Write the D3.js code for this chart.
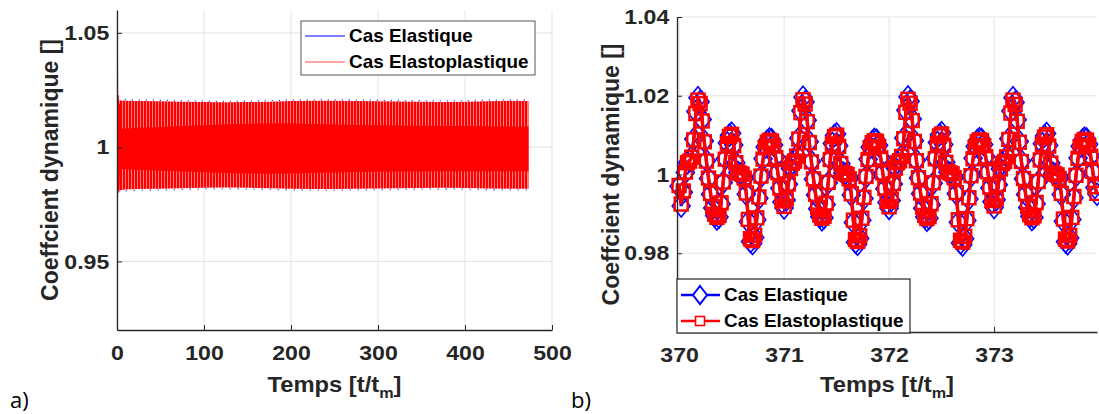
<!DOCTYPE html>
<html>
<head>
<meta charset="utf-8">
<script src="https://cdn.jsdelivr.net/npm/d3@7"></script>
<style>
  html, body { margin: 0; padding: 0; background: #ffffff; }
  svg { display: block; }
</style>
</head>
<body>
<script>
// ---------------- DATA ----------------
// Panel a) : envelope of the dense oscillation over the whole simulation
const envT      = [1, 10, 25, 50, 75, 100, 125, 150, 175, 200, 225, 250, 275, 300, 325, 350, 375, 400, 425, 450, 473];
const redUpper  = [1.0205,1.0203,1.0202,1.0201,1.0199,1.0197,1.0196,1.0197,1.0199,1.0202,1.0203,1.0203,1.0202,1.0201,1.0200,1.0199,1.0198,1.0199,1.0201,1.0203,1.0202];
const redLower  = [0.9810,0.9815,0.9817,0.9818,0.9820,0.9822,0.9823,0.9822,0.9820,0.9818,0.9817,0.9817,0.9818,0.9819,0.9820,0.9821,0.9822,0.9821,0.9819,0.9818,0.9818];
const coreUpper = [1.0080,1.0082,1.0085,1.0088,1.0092,1.0096,1.0100,1.0102,1.0104,1.0103,1.0101,1.0099,1.0097,1.0096,1.0095,1.0094,1.0093,1.0092,1.0091,1.0090,1.0090];
const coreLower = [0.9905,0.9903,0.9900,0.9897,0.9893,0.9890,0.9887,0.9885,0.9884,0.9885,0.9887,0.9889,0.9891,0.9892,0.9893,0.9893,0.9894,0.9894,0.9895,0.9895,0.9895];
const blueUpper = [1.0212,1.0208,1.0206,1.0205,1.0203,1.0201,1.0200,1.0201,1.0203,1.0206,1.0207,1.0207,1.0206,1.0205,1.0204,1.0203,1.0202,1.0203,1.0205,1.0207,1.0206];
const blueLower = [0.9803,0.9810,0.9812,0.9813,0.9815,0.9817,0.9818,0.9817,0.9815,0.9813,0.9812,0.9812,0.9813,0.9814,0.9815,0.9816,0.9817,0.9816,0.9814,0.9813,0.9813];
// start-up transient
const transT = [0, 0.4, 0.9, 1.5, 2.2, 3.0, 4.0];
const transV = [0.90, 1.0488, 0.9880, 1.0227, 0.9805, 1.0190, 0.9830];

// Panel b) : zoom 370 - 374, sampled every 0.02 t/tm
const zoomStart = 370.0, zoomStep = 0.02;
const elastique = [
0.9970,0.9920,0.9955,1.0005,1.0030,1.0035,1.0045,1.0090,1.0160,1.0195,
1.0185,1.0140,1.0085,1.0035,0.9990,0.9950,0.9915,0.9895,0.9887,0.9892,
0.9925,0.9980,1.0040,1.0080,1.0100,1.0105,1.0075,1.0030,1.0005,1.0002,
1.0000,0.9990,0.9950,0.9880,0.9830,0.9825,0.9840,0.9885,0.9940,0.9995,
1.0040,1.0070,1.0085,1.0090,1.0088,1.0075,1.0045,1.0005,0.9965,0.9930,
0.9915,0.9935,0.9975,1.0015,1.0030,1.0035,1.0048,1.0092,1.0162,1.0196,
1.0184,1.0138,1.0083,1.0033,0.9988,0.9948,0.9913,0.9893,0.9885,0.9890,
0.9924,0.9979,1.0039,1.0079,1.0099,1.0103,1.0073,1.0028,1.0004,1.0001,
0.9999,0.9988,0.9948,0.9878,0.9828,0.9823,0.9838,0.9884,0.9939,0.9994,
1.0039,1.0069,1.0084,1.0089,1.0087,1.0074,1.0044,1.0004,0.9964,0.9929,
0.9914,0.9934,0.9976,1.0016,1.0031,1.0036,1.0047,1.0093,1.0163,1.0197,
1.0186,1.0141,1.0086,1.0036,0.9991,0.9951,0.9914,0.9892,0.9884,0.9889,
0.9923,0.9978,1.0041,1.0081,1.0101,1.0106,1.0076,1.0031,1.0006,1.0003,
1.0001,0.9991,0.9951,0.9879,0.9826,0.9821,0.9837,0.9883,0.9938,0.9996,
1.0041,1.0071,1.0086,1.0091,1.0089,1.0076,1.0046,1.0006,0.9966,0.9931,
0.9916,0.9936,0.9974,1.0014,1.0029,1.0034,1.0046,1.0091,1.0161,1.0195,
1.0183,1.0139,1.0084,1.0034,0.9989,0.9949,0.9916,0.9894,0.9886,0.9891,
0.9926,0.9981,1.0038,1.0078,1.0098,1.0104,1.0074,1.0029,1.0003,1.0000,
0.9998,0.9989,0.9949,0.9881,0.9829,0.9824,0.9839,0.9886,0.9941,0.9997,
1.0042,1.0072,1.0087,1.0092,1.0090,1.0077,1.0047,1.0007,0.9967,0.9950];
const elastoplastique = [
0.9972,0.9925,0.9958,1.0006,1.0030,1.0034,1.0044,1.0088,1.0155,1.0189,
1.0180,1.0136,1.0083,1.0034,0.9991,0.9952,0.9918,0.9899,0.9891,0.9896,
0.9928,0.9981,1.0039,1.0078,1.0097,1.0102,1.0073,1.0030,1.0006,1.0003,
1.0001,0.9991,0.9953,0.9886,0.9837,0.9832,0.9846,0.9890,0.9943,0.9996,
1.0039,1.0068,1.0082,1.0087,1.0085,1.0072,1.0043,1.0005,0.9966,0.9933,
0.9919,0.9938,0.9976,1.0015,1.0029,1.0034,1.0047,1.0090,1.0157,1.0190,
1.0179,1.0134,1.0081,1.0032,0.9989,0.9950,0.9916,0.9897,0.9889,0.9894,
0.9927,0.9980,1.0038,1.0077,1.0096,1.0100,1.0071,1.0028,1.0005,1.0002,
1.0000,0.9989,0.9951,0.9884,0.9835,0.9830,0.9844,0.9889,0.9942,0.9995,
1.0038,1.0067,1.0081,1.0086,1.0084,1.0071,1.0042,1.0004,0.9965,0.9932,
0.9918,0.9937,0.9977,1.0016,1.0030,1.0035,1.0046,1.0091,1.0158,1.0191,
1.0181,1.0137,1.0084,1.0035,0.9992,0.9953,0.9917,0.9896,0.9888,0.9893,
0.9926,0.9979,1.0040,1.0079,1.0098,1.0103,1.0074,1.0031,1.0007,1.0004,
1.0002,0.9992,0.9954,0.9885,0.9833,0.9828,0.9843,0.9888,0.9941,0.9997,
1.0040,1.0069,1.0083,1.0088,1.0086,1.0073,1.0045,1.0007,0.9968,0.9934,
0.9920,0.9939,0.9975,1.0014,1.0028,1.0033,1.0045,1.0089,1.0156,1.0189,
1.0178,1.0135,1.0082,1.0033,0.9990,0.9951,0.9919,0.9898,0.9890,0.9895,
0.9929,0.9982,1.0037,1.0076,1.0095,1.0101,1.0072,1.0029,1.0004,1.0001,
0.9999,0.9990,0.9952,0.9887,0.9836,0.9831,0.9845,0.9891,0.9944,0.9998,
1.0041,1.0070,1.0084,1.0089,1.0087,1.0074,1.0046,1.0008,0.9969,0.9952];

const xTicksA = [0, 100, 200, 300, 400, 500];
const yTicksA = [0.95, 1, 1.05];
const xTicksB = [370, 371, 372, 373];
const yTicksB = [0.98, 1, 1.02, 1.04];
const seriesNames = ["Cas Elastique", "Cas Elastoplastique"];
const yTitle = "Coeffcient dynamique []";

// ---------------- DRAW ----------------
const W = 1099, H = 414;
const FONT = "'Liberation Sans', Arial, Helvetica, sans-serif";
const svg = d3.select("body").append("svg").attr("width", W).attr("height", H)
  .style("font-family", FONT);

const defs = svg.append("defs");
const pat = defs.append("pattern").attr("id", "stripes").attr("patternUnits", "userSpaceOnUse")
  .attr("width", 3).attr("height", 6);
pat.append("rect").attr("width", 3).attr("height", 6).attr("fill", "#ff0000");
pat.append("rect").attr("x", 2).attr("width", 1).attr("height", 6).attr("fill", "#ff8080");

const AXC = "#262626", GRID = "#e3e3e3";
const SX = 1.1;

function panel(cfg) {
  const g = svg.append("g");
  const x = cfg.x, y = cfg.y;
  const [x0, x1] = x.range(), [y0, y1] = y.range();
  g.selectAll(".gx").data(cfg.xt).join("line")
    .attr("x1", d => x(d)).attr("x2", d => x(d)).attr("y1", y0).attr("y2", y1)
    .attr("stroke", GRID).attr("stroke-width", 1);
  g.selectAll(".gy").data(cfg.yt).join("line")
    .attr("x1", x0).attr("x2", x1).attr("y1", d => y(d)).attr("y2", d => y(d))
    .attr("stroke", GRID).attr("stroke-width", 1);
  return g;
}

function axes(g, cfg) {
  const x = cfg.x, y = cfg.y;
  const [x0] = x.range(), [y0] = y.range();
  const ax = g.append("g").attr("transform", `translate(0,${y0})`)
    .call(d3.axisBottom(x).tickValues(cfg.xt).tickSize(-5).tickSizeOuter(0).tickPadding(15).tickFormat(d => String(d)));
  const ay = g.append("g").attr("transform", `translate(${x0},0)`)
    .call(d3.axisLeft(y).tickValues(cfg.yt).tickSize(-5).tickSizeOuter(0).tickPadding(7).tickFormat(d => String(d)));
  [ax, ay].forEach(a => {
    a.attr("font-family", null).attr("font-size", null);
    a.select(".domain").attr("stroke", AXC).attr("stroke-width", 1.3);
    a.selectAll(".tick line").attr("stroke", AXC).attr("stroke-width", 1);
    a.selectAll("text").attr("fill", AXC)
      .style("font-family", FONT).style("font-size", "21px").style("font-weight", "bold")
      .attr("transform", `scale(${SX},1)`);
  });
  const [xa, xb] = x.range();
  const xt = g.append("text").attr("transform", `translate(${(xa + xb) / 2},392) scale(1.08,1)`)
    .attr("text-anchor", "middle").attr("fill", AXC)
    .style("font-size", "22px").style("font-weight", "bold");
  xt.append("tspan").text("Temps [t/t");
  xt.append("tspan").attr("dy", 6).style("font-size", "15px").text("m");
  xt.append("tspan").attr("dy", -6).text("]");
  const [ya, yb] = y.range();
  g.append("text").attr("transform", `translate(${cfg.yTitleX},${(ya + yb) / 2}) rotate(-90)`)
    .attr("text-anchor", "middle").attr("fill", AXC)
    .style("font-size", "23px").style("font-weight", "bold").text(yTitle);
}

// ---------- Panel a ----------
const xA = d3.scaleLinear().domain([0, 500]).range([117, 552]);
const yA = d3.scaleLinear().domain([0.92, 1.06]).range([330, 10]);
const gA = panel({ x: xA, y: yA, xt: xTicksA, yt: yTicksA });
defs.append("clipPath").attr("id", "clipA").append("rect")
  .attr("x", 117).attr("y", 10).attr("width", 435).attr("height", 320);
const dA = gA.append("g").attr("clip-path", "url(#clipA)");
const idx = d3.range(envT.length);
dA.append("path").datum(idx)
  .attr("d", d3.line().x(i => xA(envT[i])).y(i => yA(blueUpper[i])))
  .attr("fill", "none").attr("stroke", "#1a1aff").attr("stroke-width", 1.3).attr("stroke-dasharray", "1 6");
dA.append("path").datum(idx)
  .attr("d", d3.line().x(i => xA(envT[i])).y(i => yA(blueLower[i])))
  .attr("fill", "none").attr("stroke", "#1a1aff").attr("stroke-width", 1.3).attr("stroke-dasharray", "1 7");
dA.append("path").datum(idx)
  .attr("d", d3.area().x(i => xA(envT[i])).y0(i => yA(redLower[i])).y1(i => yA(redUpper[i])))
  .attr("fill", "url(#stripes)");
dA.append("path").datum(idx)
  .attr("d", d3.area().x(i => xA(envT[i])).y0(i => yA(coreLower[i])).y1(i => yA(coreUpper[i])))
  .attr("fill", "#ff0000");
dA.append("path").datum(d3.range(transT.length))
  .attr("d", d3.line().x(i => xA(transT[i])).y(i => yA(transV[i])))
  .attr("fill", "none").attr("stroke", "#ff0000").attr("stroke-width", 1.2);
axes(gA, { x: xA, y: yA, xt: xTicksA, yt: yTicksA, yTitleX: 58 });

// legend a
const lgA = svg.append("g");
lgA.append("rect").attr("x", 301).attr("y", 21).attr("width", 234).attr("height", 54)
  .attr("fill", "#fff").attr("stroke", "#555").attr("stroke-width", 1);
[["#0000ff", 36], ["#ff4d4d", 62]].forEach(([c, yy], k) => {
  lgA.append("line").attr("x1", 305).attr("x2", 345).attr("y1", yy).attr("y2", yy)
    .attr("stroke", c).attr("stroke-width", 1.2);
  lgA.append("text").attr("transform", `translate(349,${yy + 6}) scale(1.08,1)`)
    .style("font-size", "17.5px").style("font-weight", "bold").attr("fill", "#000").text(seriesNames[k]);
});

// ---------- Panel b ----------
const xB = d3.scaleLinear().domain([369.98, 373.98]).range([677, 1097]);
const yB = d3.scaleLinear().domain([0.96, 1.04]).range([332, 17]);
const gB = panel({ x: xB, y: yB, xt: xTicksB, yt: yTicksB });
const tB = i => zoomStart + i * zoomStep;
const dB = gB.append("g");
const lineB = arr => d3.line().x((d, i) => xB(tB(i))).y(d => yB(d))(arr);
const diamond = "M0,-11L9,0L0,11L-9,0Z";
dB.append("path").attr("d", lineB(elastique)).attr("fill", "none").attr("stroke", "#0000ff").attr("stroke-width", 3);
dB.selectAll(".mb").data(elastique).join("path")
  .attr("d", diamond).attr("transform", (d, i) => `translate(${xB(tB(i))},${yB(d)})`)
  .attr("fill", "none").attr("stroke", "#0000ff").attr("stroke-width", 1.6);
dB.append("path").attr("d", lineB(elastoplastique)).attr("fill", "none").attr("stroke", "#ff0000").attr("stroke-width", 3.5);
dB.selectAll(".mr").data(elastoplastique).join("rect")
  .attr("x", (d, i) => xB(tB(i)) - 6.5).attr("y", d => yB(d) - 6.5)
  .attr("width", 13).attr("height", 13)
  .attr("fill", "none").attr("stroke", "#ff0000").attr("stroke-width", 2.4);
axes(gB, { x: xB, y: yB, xt: xTicksB, yt: yTicksB, yTitleX: 619 });

// legend b
const lgB = svg.append("g");
lgB.append("rect").attr("x", 677).attr("y", 279).attr("width", 233).attr("height", 54)
  .attr("fill", "#fff").attr("stroke", AXC).attr("stroke-width", 1.2);
lgB.append("line").attr("x1", 681).attr("x2", 720).attr("y1", 295).attr("y2", 295)
  .attr("stroke", "#0000ff").attr("stroke-width", 2.5);
lgB.append("path").attr("d", "M0,-9L7,0L0,9L-7,0Z").attr("transform", "translate(700,295)")
  .attr("fill", "#fff").attr("stroke", "#0000ff").attr("stroke-width", 2);
lgB.append("line").attr("x1", 681).attr("x2", 720).attr("y1", 321).attr("y2", 321)
  .attr("stroke", "#ff0000").attr("stroke-width", 2.5);
lgB.append("rect").attr("x", 695.5).attr("y", 316.5).attr("width", 9).attr("height", 9)
  .attr("fill", "#fff").attr("stroke", "#ff0000").attr("stroke-width", 1.6);
[295, 321].forEach((yy, k) => {
  lgB.append("text").attr("transform", `translate(724,${yy + 6}) scale(1.08,1)`)
    .style("font-size", "17.5px").style("font-weight", "bold").attr("fill", "#000").text(seriesNames[k]);
});

// panel letters
svg.append("text").attr("x", 10).attr("y", 408).style("font-family", "'Open Sans', sans-serif")
  .style("font-size", "22px").attr("fill", "#000").text("a)");
svg.append("text").attr("x", 571).attr("y", 408).style("font-family", "'Open Sans', sans-serif")
  .style("font-size", "22px").attr("fill", "#000").text("b)");
</script>
</body>
</html>
